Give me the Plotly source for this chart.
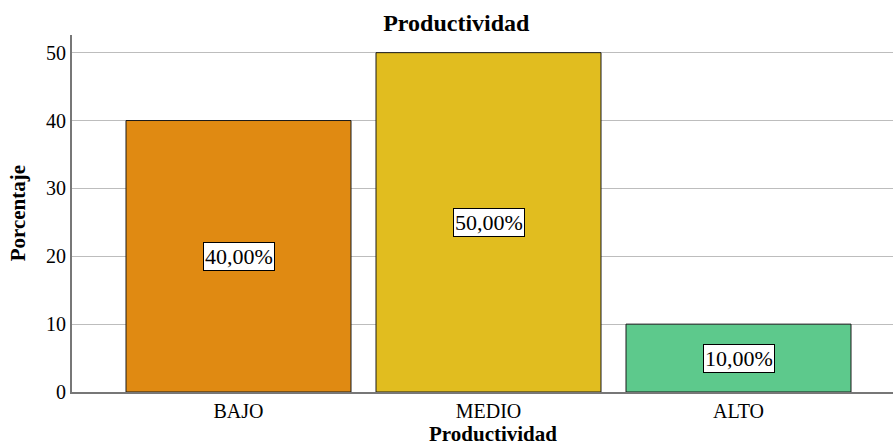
import plotly.graph_objects as go

categories = ["BAJO", "MEDIO", "ALTO"]
values = [40, 50, 10]
labels = ["40,00%", "50,00%", "10,00%"]
colors = ["#E08A12", "#E1BD1F", "#5DC98C"]
yticks = [0, 10, 20, 30, 40, 50]

FONT = "Liberation Serif"

fig = go.Figure()
fig.add_trace(go.Bar(
    x=list(range(len(categories))), y=values, width=0.9,
    marker=dict(color=colors, line=dict(color="#1a1a1a", width=1)),
    hoverinfo="skip",
))

for i, (v, t) in enumerate(zip(values, labels)):
    fig.add_annotation(x=i, y=v / 2, text=t, showarrow=False,
                       font=dict(family=FONT, size=22, color="black"),
                       bgcolor="white", bordercolor="black", borderwidth=1,
                       borderpad=1)

fig.add_annotation(xref="paper", yref="paper", x=-0.066, xanchor="center",
                   y=0.5, yanchor="middle",
                   text="<b>Porcentaje</b>", textangle=-90, showarrow=False,
                   font=dict(family=FONT, size=21, color="black"))
fig.add_annotation(xref="paper", yref="paper", x=0.513, xanchor="center",
                   y=-0.118, yanchor="middle",
                   text="<b>Productividad</b>", showarrow=False,
                   font=dict(family=FONT, size=21, color="black"))

fig.update_layout(
    width=893, height=445,
    margin=dict(l=72, r=0, t=35, b=53),
    paper_bgcolor="white", plot_bgcolor="white",
    showlegend=False,
    title=dict(text="<b>Productividad</b>", x=0.511, xanchor="center",
               y=0.95, yanchor="middle",
               font=dict(family=FONT, size=24, color="black")),
    font=dict(family=FONT, size=20, color="black"),
)
fig.update_xaxes(
    range=[-0.666, 2.618], tickmode="array",
    tickvals=list(range(len(categories))), ticktext=categories,
    showgrid=False, zeroline=False, showline=True, linecolor="#777777",
    linewidth=1.5, ticks="", tickfont=dict(family=FONT, size=20, color="black"),
)
fig.update_yaxes(
    range=[0, 52.6], tickmode="array", tickvals=yticks,
    showgrid=True, gridcolor="#bdbdbd", gridwidth=1, zeroline=False,
    showline=True, linecolor="#777777", linewidth=2, ticks="",
    tickfont=dict(family=FONT, size=20, color="black"),
)

fig.write_html("out.html")
